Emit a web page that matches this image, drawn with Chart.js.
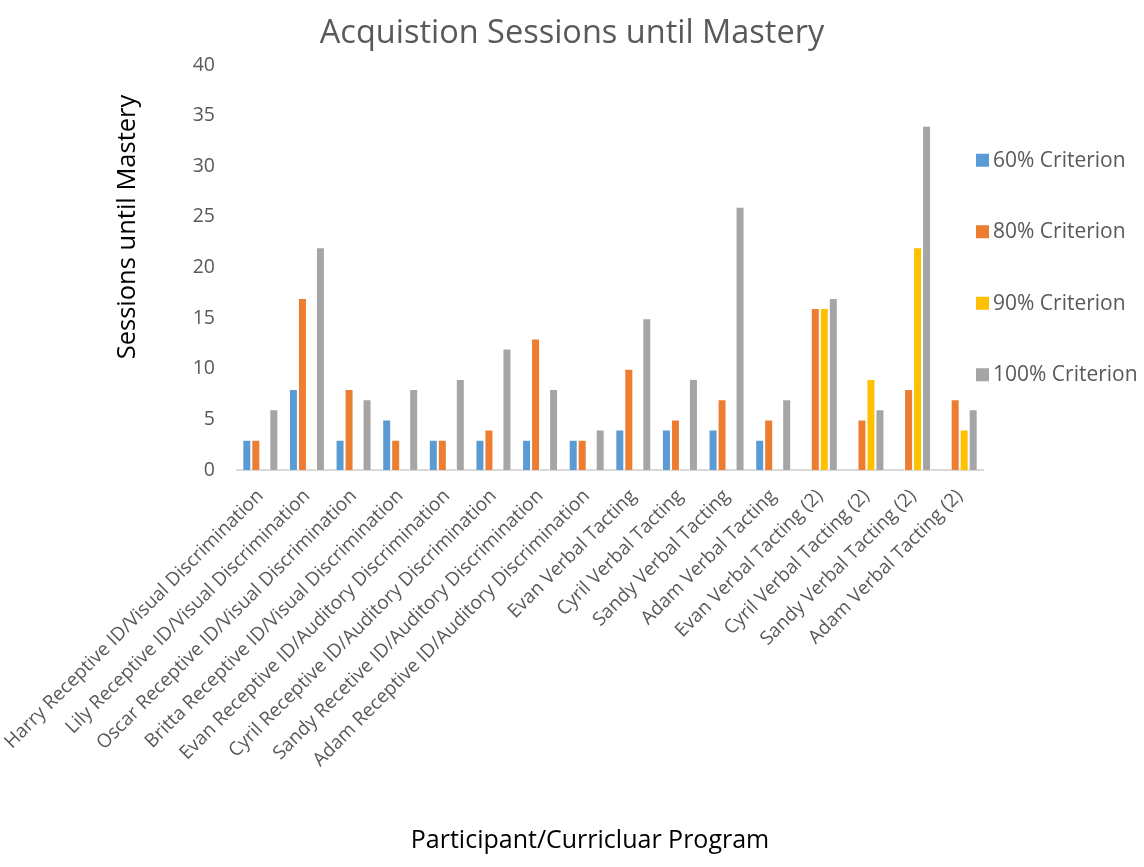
<!DOCTYPE html>
<html>
<head>
<meta charset="utf-8">
<script src="https://cdn.jsdelivr.net/npm/chart.js@4.4.0/dist/chart.umd.min.js"></script>
<style>
  html, body { margin: 0; padding: 0; background: #fff; }
  #wrap { width: 1144px; height: 867px; }
</style>
</head>
<body>
<div id="wrap"><canvas id="myChart" width="1144" height="867"></canvas></div>
<script>
const programs = [
  "Harry Receptive ID/Visual Discrimination",
  "Lily Receptive ID/Visual Discrimination",
  "Oscar Receptive ID/Visual Discrimination",
  "Britta Receptive ID/Visual Discrimination",
  "Evan Receptive ID/Auditory Discrimination",
  "Cyril Receptive ID/Auditory Discrimination",
  "Sandy Recetive ID/Auditory Discrimination",
  "Adam Receptive ID/Auditory Discrimination",
  "Evan Verbal Tacting",
  "Cyril Verbal Tacting",
  "Sandy Verbal Tacting",
  "Adam Verbal Tacting",
  "Evan Verbal Tacting (2)",
  "Cyril Verbal Tacting (2)",
  "Sandy Verbal Tacting (2)",
  "Adam Verbal Tacting (2)"
];
const crit60 = [3, 8, 3, 5, 3, 3, 3, 3, 4, 4, 4, 3, null, null, null, null];
const crit80 = [3, 17, 8, 3, 3, 4, 13, 3, 10, 5, 7, 5, 16, 5, 8, 7];
const crit90 = [null, null, null, null, null, null, null, null, null, null, null, null, 16, 9, 22, 4];
const crit100 = [6, 22, 7, 8, 9, 12, 8, 4, 15, 9, 26, 7, 17, 6, 34, 6];
const seriesNames = ["60% Criterion", "80% Criterion", "90% Criterion", "100% Criterion"];
const seriesColors = ["#5B9BD5", "#ED7D31", "#FFC000", "#A5A5A5"];
const yTicks = [0, 5, 10, 15, 20, 25, 30, 35, 40];
const yTitle = "Sessions until Mastery";
const xTitle = "Participant/Curricluar Program";

const FONT = "'Open Sans', sans-serif";
const GREY = "#595959";

// legend + axis titles drawn by hand (Excel places them off-centre)
const extras = {
  id: 'extras',
  afterDraw(chart) {
    const ctx = chart.ctx;
    const area = chart.chartArea;
    const gap = 71.5;
    const midY = (area.top + area.bottom) / 2;
    const x = area.right - 7;
    ctx.save();
    ctx.font = "21px " + FONT;
    ctx.textBaseline = 'middle';
    chart.data.datasets.forEach((ds, i) => {
      const y = midY + (i - 1.5) * gap - 0.5;
      ctx.fillStyle = ds.backgroundColor;
      ctx.fillRect(x, y - 6, 13, 13);
      ctx.fillStyle = GREY;
      ctx.textAlign = 'left';
      ctx.fillText(ds.label, x + 17, y + 1);
    });

    ctx.fillStyle = '#000000';
    ctx.textAlign = 'center';
    ctx.font = "25px " + FONT;
    ctx.fillText(xTitle, 590, 841);

    ctx.translate(128, 227);
    ctx.rotate(-Math.PI / 2);
    ctx.font = "25.5px " + FONT;
    ctx.fillText(yTitle, 0, 0);
    ctx.restore();
  }
};

const canvas = document.getElementById("myChart");
const allSeries = [crit60, crit80, crit90, crit100];

new Chart(canvas, {
  type: 'bar',
  data: {
    labels: programs,
    datasets: allSeries.map((vals, i) => ({
      label: seriesNames[i],
      data: vals,
      backgroundColor: seriesColors[i],
      borderColor: '#ffffff',
      borderWidth: 1,
      barPercentage: 1,
      categoryPercentage: 0.772
    }))
  },
  options: {
    responsive: false,
    animation: false,
    layout: { padding: 0 },
    plugins: {
      legend: { display: false },
      tooltip: { enabled: false },
      title: {
        display: true,
        text: "Acquistion Sessions until Mastery",
        color: GREY,
        font: { family: FONT, size: 32.5, weight: 'normal' },
        padding: { top: 14, bottom: 12 }
      }
    },
    scales: {
      x: {
        grid: { display: false, drawTicks: false },
        border: { display: true, color: '#D9D9D9', width: 2 },
        ticks: {
          autoSkip: false,
          maxRotation: 45,
          minRotation: 45,
          padding: 15,
          color: GREY,
          font: { family: FONT, size: 19 }
        },
        afterFit(scale) {
          scale.height = 397;
          // long first label may hang left of the plot, as in Excel
          scale.paddingLeft = 0;
          scale.paddingRight = 0;
        }
      },
      y: {
        min: 0,
        max: 40,
        afterBuildTicks(scale) { scale.ticks = yTicks.map(v => ({ value: v })); },
        grid: { display: false, drawTicks: false },
        border: { display: false },
        ticks: {
          padding: 22,
          color: GREY,
          font: { family: FONT, size: 19.5 }
        },
        afterFit(scale) { scale.width = 237; }
      },
      // empty right-hand box that keeps space free for the legend
      side: {
        type: 'linear',
        position: 'right',
        display: true,
        grid: { display: false, drawTicks: false },
        border: { display: false },
        ticks: { display: false },
        afterFit(scale) { scale.width = 161; }
      }
    }
  },
  plugins: [extras]
});
</script>
</body>
</html>
